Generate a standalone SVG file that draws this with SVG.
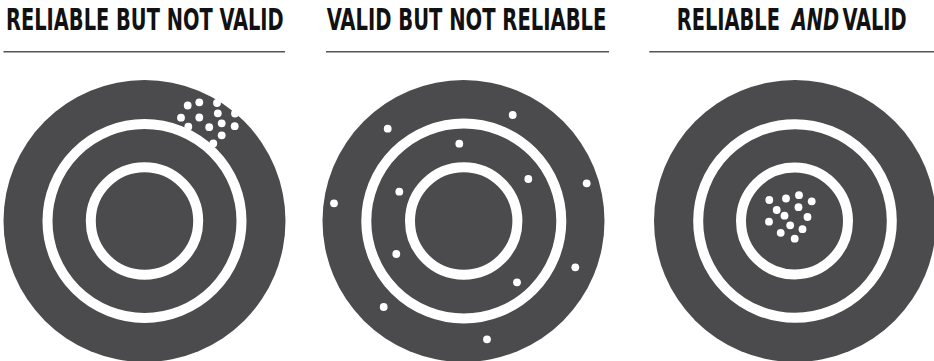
<svg xmlns="http://www.w3.org/2000/svg" width="934" height="361" viewBox="0 0 934 361">
  <style>
    .title { font-family: "DejaVu Sans Condensed", "DejaVu Sans", sans-serif; font-weight: bold; font-stretch: condensed; font-size: 30px; fill: #111; }
    .it { font-style: italic; }
    .tight { word-spacing: -5px; }
    .rule { stroke: #555; stroke-width: 1.6; }
    .board { fill: #4b4b4d; }
    .ring { fill: none; stroke: #fff; stroke-width: 10; }
    .dot { fill: #fff; }
  </style>
  <rect width="934" height="361" fill="#fff"/>

  <g id="title1">
    <text class="title" transform="translate(6 29.5) scale(0.72 1)" x="0" y="0">RELIABLE BUT NOT VALID</text>
    <line class="rule" x1="3.5" y1="51.7" x2="285" y2="51.7"/>
  </g>
  <g id="title2">
    <text class="title" transform="translate(326.7 29.5) scale(0.725 1)" x="0" y="0">VALID BUT NOT RELIABLE</text>
    <line class="rule" x1="326" y1="51.7" x2="609" y2="51.7"/>
  </g>
  <g id="title3">
    <text class="title" transform="translate(676.7 29.5) scale(0.72 1)" x="0" y="0">RELIABLE <tspan class="it" dx="7">AND</tspan><tspan class="tight"> VALID</tspan></text>
    <line class="rule" x1="649.3" y1="51.7" x2="934" y2="51.7"/>
  </g>

  <g id="target1">
    <circle class="board" cx="144.5" cy="221" r="141"/>
    <circle class="ring" cx="144.5" cy="221" r="97"/>
    <circle class="ring" cx="144.5" cy="221" r="53.7"/>
    <circle class="dot" cx="187.7" cy="105.5" r="3.9"/>
    <circle class="dot" cx="199.3" cy="102.3" r="3.9"/>
    <circle class="dot" cx="181" cy="117.7" r="3.9"/>
    <circle class="dot" cx="199.3" cy="117.5" r="3.9"/>
    <circle class="dot" cx="217.8" cy="113.3" r="3.9"/>
    <circle class="dot" cx="209.2" cy="127.2" r="3.9"/>
    <circle class="dot" cx="221.7" cy="123.3" r="3.9"/>
    <circle class="dot" cx="234.7" cy="126.2" r="3.9"/>
    <circle class="dot" cx="221.7" cy="135.3" r="3.9"/>
    <circle class="dot" cx="217" cy="103" r="3.9"/>
    <circle class="dot" cx="235" cy="113.5" r="3.9"/>
    <circle class="dot" cx="188.3" cy="126.7" r="3.9"/>
    <circle class="dot" cx="213.3" cy="143.5" r="3.9"/>
  </g>

  <g id="target2">
    <circle class="board" cx="463.5" cy="221" r="141"/>
    <circle class="ring" cx="463.8" cy="221" r="97.5"/>
    <circle class="ring" cx="463.7" cy="221" r="53.7"/>
    <circle class="dot" cx="512.7" cy="115" r="3.9"/>
    <circle class="dot" cx="387.7" cy="128.7" r="3.9"/>
    <circle class="dot" cx="459.3" cy="143.7" r="3.9"/>
    <circle class="dot" cx="528.3" cy="179" r="3.9"/>
    <circle class="dot" cx="586.7" cy="183.3" r="3.9"/>
    <circle class="dot" cx="399.3" cy="191.7" r="3.9"/>
    <circle class="dot" cx="334" cy="203.3" r="3.9"/>
    <circle class="dot" cx="396.3" cy="254" r="3.9"/>
    <circle class="dot" cx="575.3" cy="267.3" r="3.9"/>
    <circle class="dot" cx="517" cy="282.3" r="3.9"/>
    <circle class="dot" cx="383.7" cy="307" r="3.9"/>
    <circle class="dot" cx="487" cy="339.3" r="3.9"/>
  </g>

  <g id="target3">
    <circle class="board" cx="795" cy="221" r="141"/>
    <circle class="ring" cx="795" cy="221" r="96.8"/>
    <circle class="ring" cx="794.5" cy="221" r="53.5"/>
    <circle class="dot" cx="769.3" cy="200" r="3.9"/>
    <circle class="dot" cx="786" cy="198.5" r="3.9"/>
    <circle class="dot" cx="799" cy="195.2" r="3.9"/>
    <circle class="dot" cx="811.7" cy="201.3" r="3.9"/>
    <circle class="dot" cx="776.7" cy="210" r="3.9"/>
    <circle class="dot" cx="798.5" cy="207.2" r="3.9"/>
    <circle class="dot" cx="784.5" cy="215.7" r="3.9"/>
    <circle class="dot" cx="769" cy="221.7" r="3.9"/>
    <circle class="dot" cx="807.5" cy="217" r="3.9"/>
    <circle class="dot" cx="790.2" cy="225.3" r="3.9"/>
    <circle class="dot" cx="802.5" cy="229.2" r="3.9"/>
    <circle class="dot" cx="780.7" cy="232.8" r="3.9"/>
    <circle class="dot" cx="794.7" cy="238.7" r="3.9"/>
  </g>
</svg>
